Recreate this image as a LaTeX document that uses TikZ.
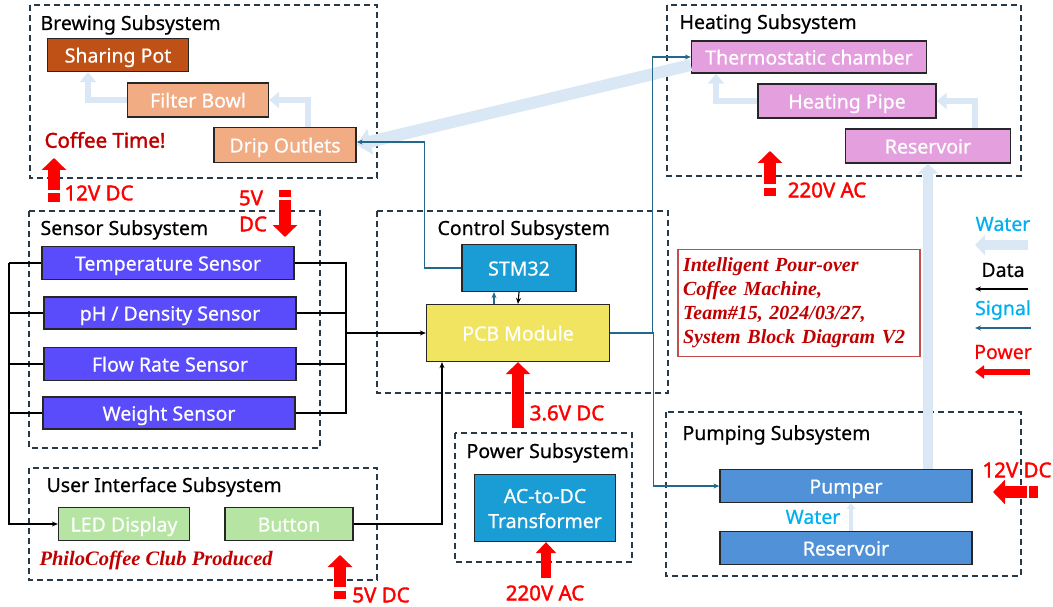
\documentclass[tikz,border=0pt]{standalone}
\usepackage{fontspec}
\setmainfont{Noto Sans}[UprightFeatures={FakeBold=0.6}, BoldFont={Noto Sans}, BoldFeatures={FakeBold=1.8}]
\newfontfamily\serifbi{Liberation Serif}
\usetikzlibrary{arrows.meta}
\definecolor{frame}{RGB}{40,58,72}
\definecolor{potc}{RGB}{192,81,22}
\definecolor{bowlc}{RGB}{241,172,132}
\definecolor{sensc}{RGB}{90,76,250}
\definecolor{stmc}{RGB}{26,156,212}
\definecolor{pcbc}{RGB}{241,228,96}
\definecolor{heatc}{RGB}{228,160,222}
\definecolor{uic}{RGB}{182,228,162}
\definecolor{pumpc}{RGB}{80,145,215}
\definecolor{waterc}{RGB}{218,232,246}
\definecolor{sigc}{RGB}{35,105,140}
\definecolor{cyanc}{RGB}{0,176,240}
\definecolor{darkredc}{RGB}{192,0,0}
\definecolor{boxredc}{RGB}{192,80,77}
\tikzset{
  blk/.style={draw=black!85, line width=1.3pt, text=white, inner sep=0pt, minimum height=33pt,
    text height=15pt, text depth=0pt},
  sub/.style={draw=frame, dash pattern=on 6pt off 4pt, line width=1.4pt},
  ttl/.style={anchor=base west},
  water/.style={draw=waterc, line width=6pt, -{Triangle[width=16pt,length=10pt]}},
  sig/.style={draw=sigc, line width=1.1pt, -{Stealth[length=6pt,width=5pt]}},
  dat/.style={draw=black, line width=1.1pt, -{Stealth[length=6pt,width=5pt]}},
  pwr/.style={draw=red, line width=12pt, -{Triangle[width=24pt,length=12pt]}},
  pwrlbl/.style={text=red, font=\bfseries\fontsize{20.5}{22}\selectfont},
}
\begin{document}
\begin{tikzpicture}[x=1pt, y=-1pt, every node/.style={font=\fontsize{19.5}{22}\selectfont}]
\useasboundingbox (0,0) rectangle (1053,607);

% subsystem frames
\draw[sub] (30,5) rectangle (377,178);
\draw[sub] (667,5) rectangle (1021,176);
\draw[sub] (29,211) rectangle (320,448);
\draw[sub] (377,211) rectangle (668,393);
\draw[sub] (666,412) rectangle (1021,576);
\draw[sub] (455,433) rectangle (632,562);
\draw[sub] (29,468) rectangle (377,580);

\node[ttl] (tbrew) at (37,30) {Brewing Subsystem};
\node[ttl] (theat) at (676,29) {Heating Subsystem};
\node[ttl] (tsens) at (37,235) {Sensor Subsystem};
\node[ttl] (tctrl) at (434,235) {Control Subsystem};
\node[ttl] (tpump) at (679,440) {Pumping Subsystem};
\node[ttl] (tpower) at (463,458) {Power Subsystem};
\node[ttl] (tui) at (43,492) {User Interface Subsystem};

% blocks
\node[blk, fill=potc, minimum width=141pt] (pot) at (118,55) {Sharing Pot};
\node[blk, fill=bowlc, minimum width=141pt, minimum height=34pt] (bowl) at (198,100) {Filter Bowl};
\node[blk, fill=bowlc, minimum width=142pt, minimum height=35pt] (drip) at (285,145) {Drip Outlets};

\node[blk, fill=heatc, minimum width=235pt, minimum height=32pt] (chamber) at (809,57) {Thermostatic chamber};
\node[blk, fill=heatc, minimum width=178pt, minimum height=34pt] (pipe) at (847,101) {Heating Pipe};
\node[blk, fill=heatc, minimum width=165pt, minimum height=34pt] (hres) at (928,146) {Reservoir};

\node[blk, fill=sensc, minimum width=252pt] (temp) at (168,263) {Temperature Sensor};
\node[blk, fill=sensc, minimum width=252pt, minimum height=32pt] (ph) at (170,313) {pH / Density Sensor};
\node[blk, fill=sensc, minimum width=252pt] (flow) at (170,364) {Flow Rate Sensor};
\node[blk, fill=sensc, minimum width=252pt, minimum height=32pt] (weight) at (169,413) {Weight Sensor};

\node[blk, fill=stmc, minimum width=114pt, minimum height=47pt] (stm) at (519,268) {STM32};
\node[blk, fill=pcbc, minimum width=183pt, minimum height=57pt] (pcb) at (518,333) {PCB Module};

\node[blk, fill=uic, minimum width=131pt] (led) at (124,524) {LED Display};
\node[blk, fill=uic, minimum width=128pt] (button) at (289,524) {Button};

\node[blk, fill=stmc, minimum width=141pt, minimum height=67pt, align=center,
  text height=40pt, font=\fontsize{19.5}{25}\selectfont] (acdc) at (545,508) {AC-to-DC\\Transformer};

\node[blk, fill=pumpc, minimum width=252pt] (pumper) at (846,486) {Pumper};
\node[blk, fill=pumpc, minimum width=252pt] (pres) at (846,548) {Reservoir};

% water flow
\draw[water] (bowl.west) -| ([xshift=-30]pot.south);
\draw[water] ([xshift=23]drip.north) |- (bowl.east);
\draw[water] (pipe.west) -| ([xshift=-93]chamber.south);
\draw[water] ([xshift=47]hres.north) |- (pipe.east);
\draw[water, line width=12pt, -{Triangle[width=26pt,length=14pt]}] ([yshift=-8]chamber.west) -- (drip.east);
\draw[water, line width=10pt, -{Triangle[width=20pt,length=10pt]}] (hres.south |- pumper.north) -- (hres.south);
\draw[water, line width=4pt, -{Triangle[width=9pt,length=6pt]}] ([xshift=5]pres.north) -- ([xshift=5]pumper.south);
\node[text=cyanc] (wlbl) at (813,517) {Water};

% sensor buses
\coordinate (lbus) at (9,0);
\coordinate (rbus) at (346,0);
\draw[line width=1.1pt] (temp.west) -- (temp.west -| lbus);
\draw[line width=1.1pt] (ph.west) -- (ph.west -| lbus);
\draw[line width=1.1pt] (flow.west) -- (flow.west -| lbus);
\draw[line width=1.1pt] (weight.west) -- (weight.west -| lbus);
\draw[dat] (temp.west -| lbus) |- (led.west);
\draw[line width=1.1pt] (temp.east) -- (temp.east -| rbus) -- (weight.east -| rbus) -- (weight.east);
\draw[line width=1.1pt] (ph.east) -- (ph.east -| rbus);
\draw[line width=1.1pt] (flow.east) -- (flow.east -| rbus);
\draw[dat] (pcb.west -| rbus) -- (pcb.west);
\draw[dat] (button.east) -| ([xshift=-76]pcb.south);

% control signals
\draw[sig] ([xshift=-24]pcb.north) -- ([xshift=-24]pcb.north |- stm.south);
\draw[dat] (stm.south) -- (pcb.north);
\draw[sig] (stm.west) -- ++(-37,0) |- ([yshift=3]drip.east);
\draw[sig] (pcb.east) -- ++(42,0) |- (chamber.west);
\draw[sig] (pcb.east) -- ++(43,0) |- (pumper.west);

% power
\draw[pwr] (54,190) -- (54,158);
\fill[red] (48,193) rectangle (60,202);
\node[pwrlbl] (p12a) at (99,193) {12V DC};
\draw[pwr] (285,200) -- (285,237);
\fill[red] (279,190) rectangle (291,197);
\node[pwrlbl] (p5a) at (251,198) {5V};
\node[pwrlbl] (p5b) at (253,224) {DC};
\draw[pwr] (770,184) -- (770,151);
\fill[red] (764,188) rectangle (776,196);
\node[pwrlbl] (p220a) at (827,190) {220V AC};
\draw[pwr] (518,428) -- (pcb.south -| 518,0);
\node[pwrlbl] (p36) at (567,413) {3.6V DC};
\draw[pwr, line width=10pt, -{Triangle[width=20pt,length=11pt]}] (546,578) -- (acdc.south -| 546,0);
\node[pwrlbl] (p220b) at (545,593) {220V AC};
\draw[pwr] (340,587) -- (340,555);
\fill[red] (334,591) rectangle (346,599);
\node[pwrlbl] (p5c) at (381,595) {5V DC};
\draw[pwr] (1027,492) -- (993,492);
\fill[red] (1029,486) rectangle (1038,498);
\node[pwrlbl] (p12b) at (1017,470) {12V DC};

% notes
\node[text=darkredc, font=\bfseries\fontsize{20.5}{22}\selectfont] (coffee) at (105,140) {Coffee Time!};
\node[anchor=west, text=darkredc, font=\serifbi\bfseries\itshape\fontsize{20.5}{22}\selectfont] (philo) at (36,560) {PhiloCoffee Club Produced};
\node[draw=boxredc, line width=1.3pt, minimum width=242pt, minimum height=107pt, text width=232pt, align=left,
  text=darkredc, font=\serifbi\bfseries\itshape\fontsize{20}{24}\selectfont] (note) at (799,303)
  {Intelligent Pour-over\\Coffee Machine,\\Team\#15, 2024/03/27,\\System Block Diagram V2};

% legend
\node[text=cyanc] (lwater) at (1003,224) {Water};
\draw[water, line width=10pt, -{Triangle[width=20pt,length=10pt]}] (1028,245) -- (975,245);
\node (ldata) at (1003,270) {Data};
\draw[dat] (1028,289) -- (975,289);
\node[text=cyanc] (lsig) at (1003,310) {Signal};
\draw[sig] (1031,328) -- (975,328);
\node[text=red] (lpwr) at (1003,352) {Power};
\draw[pwr, line width=6pt, -{Triangle[width=13pt,length=9pt]}] (1030,372) -- (975,372);
\end{tikzpicture}
\end{document}
